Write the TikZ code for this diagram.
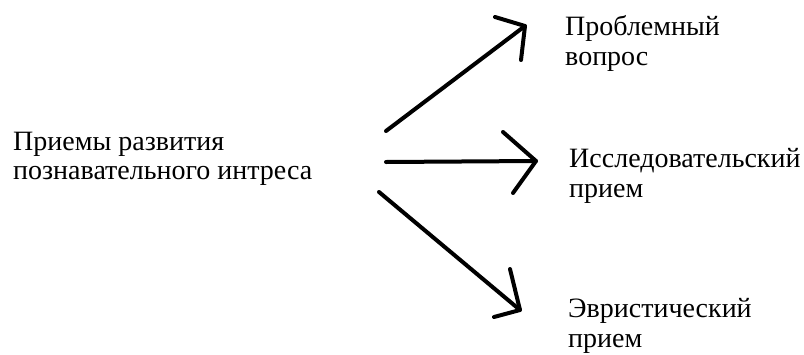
\documentclass[tikz,border=0pt]{standalone}
\usepackage{fontspec}
\setmainfont{Liberation Serif}
\begin{document}
\begin{tikzpicture}[x=1pt,y=-1pt,
  lbl/.style={anchor=base west,inner sep=0pt,align=left,font=\fontsize{28}{29.5}\selectfont},
  stroke/.style={line width=4pt,line cap=round,line join=round}]
\useasboundingbox (0,0) rectangle (804,354);
% anchor = baseline of the last line
\node[lbl] (src) at (13,179.5) {Приемы развития\\познавательного интреса};
\node[lbl] (t1) at (565,65) {Проблемный\\вопрос};
\node[lbl] (t2) at (569,197) {Исследовательский\\прием};
\node[lbl] (t3) at (568,347) {Эвристический\\прием};
% arrow 1
\coordinate (s1) at (386,131);
\coordinate (e1) at (525,26);
\coordinate (a1) at (495,17);
\coordinate (b1) at (521,60);
\draw[stroke] (s1) -- (e1);
\draw[stroke] (a1) -- (e1) -- (b1);
% arrow 2
\coordinate (s2) at (386,162);
\coordinate (e2) at (536,161);
\coordinate (a2) at (503,132);
\coordinate (b2) at (513,193);
\draw[stroke] (s2) -- (e2);
\draw[stroke] (a2) -- (e2) -- (b2);
% arrow 3
\coordinate (s3) at (379,192);
\coordinate (e3) at (520,310);
\coordinate (a3) at (510,269);
\coordinate (b3) at (494,317);
\draw[stroke] (s3) -- (e3);
\draw[stroke] (a3) -- (e3) -- (b3);
\end{tikzpicture}
\end{document}
